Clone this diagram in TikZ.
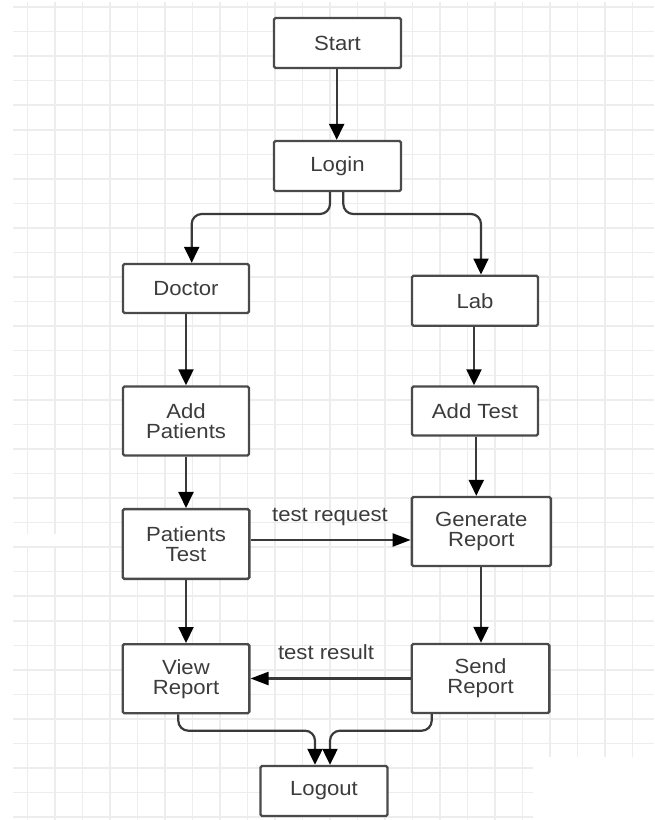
\documentclass[tikz,border=0pt]{standalone}
\usepackage{fontspec}
\setmainfont{Liberation Sans}[FakeStretch=1.08]
\usetikzlibrary{arrows.meta}
\definecolor{gridc}{HTML}{EDEDED}
\definecolor{boxc}{HTML}{4A4A4A}
\definecolor{linec}{HTML}{3A3A3A}
\definecolor{txtc}{HTML}{3C3C3C}
\tikzset{
  gridl/.style={draw=gridc, line width=1.5pt},
  box/.style={draw=boxc, line width=2.4pt, rounded corners=1.5pt, fill=white,
    text=txtc, align=center, inner sep=0pt,
    font=\fontsize{20.5}{20}\selectfont},
  conn/.style={draw=linec, line width=2.2pt,
    -{Triangle[length=16pt,width=15pt,color=black]}},
  hconn/.style={draw=linec, line width=2.2pt,
    -{Triangle[length=18pt,width=13pt,color=black]}},
  lbl/.style={text=txtc, inner sep=0pt, font=\fontsize{20.5}{20}\selectfont}
}
\begin{document}
\begin{tikzpicture}[x=1pt,y=-1pt]
\useasboundingbox (0,0) rectangle (654,820);
\fill[white] (0,0) rectangle (654,820);
% grid
\foreach \i in {0,...,22} \draw[gridl] ({27.5+27.5*\i},2) -- ({27.5+27.5*\i},820);
\foreach \j in {0,...,33} \draw[gridl] (13,{7+24.55*\j}) -- (654,{7+24.55*\j});
\fill[white] (533,757) rectangle (654,820);
\fill[white] (18,534) rectangle (62,546);

% nodes
\node[box, minimum width=127pt, minimum height=50pt] (start) at (337.5,43) {Start};
\node[box, minimum width=127pt, minimum height=50pt] (login) at (337.5,166) {Login};
\node[box, minimum width=126pt, minimum height=49pt] (doctor) at (186,288.5) {Doctor};
\node[box, minimum width=126pt, minimum height=50pt] (lab) at (475,300.7) {Lab};
\node[box, minimum width=126pt, minimum height=69pt] (addp) at (186,421) {Add\\Patients};
\node[box, minimum width=126pt, minimum height=49pt] (addt) at (475,411) {Add Test};
\node[box, minimum width=126.6pt, minimum height=69.7pt] (ptest) at (186,544) {Patients\\Test};
\node[box, minimum width=139pt, minimum height=69pt] (gen) at (481.3,531.5) {Generate\\Report};
\node[box, minimum width=126.6pt, minimum height=69pt] (view) at (186,678.7) {View\\Report};
\node[box, minimum width=137.6pt, minimum height=69pt] (send) at (480.5,678.5) {Send\\Report};
\node[box, minimum width=127pt, minimum height=50pt] (logout) at (324,791) {Logout};

% labels
\node[lbl] (treq) at (330,516.7) {test request};
\node[lbl] (tres) at (326,651.7) {test result};

% connectors
\draw[conn] ([xshift=-0.8pt]start.south) -- ([xshift=-0.8pt]login.north);

\coordinate (jl) at (0,214);
\coordinate (l1) at ([xshift=-7.5pt]login.south);
\coordinate (l2) at ([xshift=5.8pt]login.south);
\coordinate (d1) at ([xshift=5.7pt]doctor.north);
\coordinate (b1) at ([xshift=6pt]lab.north);
\draw[conn, rounded corners=10pt] (l1) -- (l1 |- jl) -- (d1 |- jl) -- (d1);
\draw[conn, rounded corners=10pt] (l2) -- (l2 |- jl) -- (b1 |- jl) -- (b1);

\draw[conn] (doctor.south) -- (addp.north);
\draw[conn] (addp.south) -- (ptest.north);
\draw[conn] ([xshift=-1pt]lab.south) -- ([xshift=-1pt]addt.north);
\coordinate (t1) at ([xshift=1.3pt]addt.south);
\draw[conn] (t1) -- (t1 |- gen.north);
\draw[conn] (ptest.south) -- (view.north);
\coordinate (g1) at ([xshift=-0.3pt]gen.south);
\draw[conn] (g1) -- (g1 |- send.north);

\coordinate (p1) at ([yshift=4pt]ptest.east);
\draw[hconn] (p1) -- (p1 -| gen.west);
\draw[hconn] (send.west) -- (send.west -| view.east);

\coordinate (jb) at (0,730.7);
\coordinate (v1) at ([xshift=-7.7pt]view.south);
\coordinate (s1) at ([xshift=-48.8pt]send.south);
\coordinate (o1) at ([xshift=-9pt]logout.north);
\coordinate (o2) at ([xshift=6pt]logout.north);
\draw[conn, rounded corners=10pt] (v1) -- (v1 |- jb) -- (o1 |- jb) -- (o1);
\draw[conn, rounded corners=10pt] (s1) -- (s1 |- jb) -- (o2 |- jb) -- (o2);
\end{tikzpicture}
\end{document}
